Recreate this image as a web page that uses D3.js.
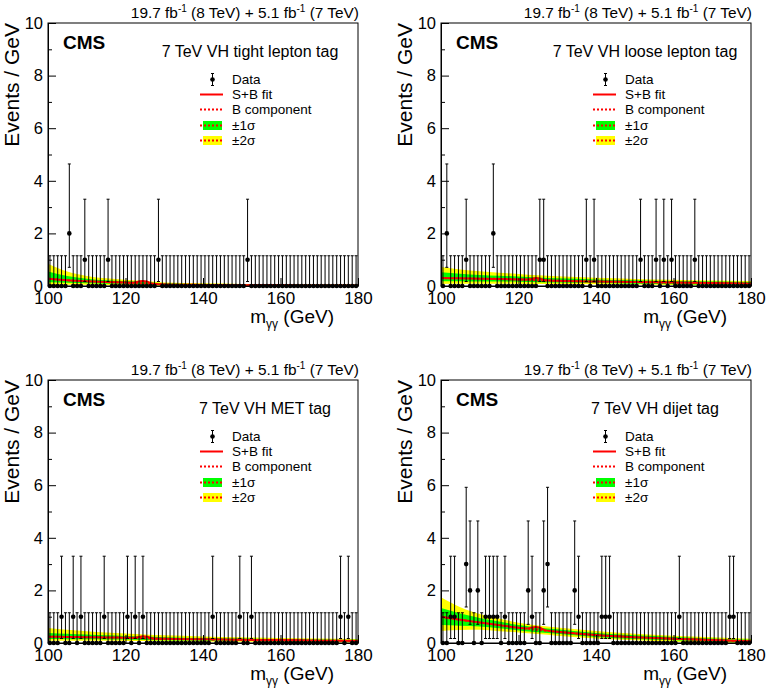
<!DOCTYPE html>
<html><head><meta charset="utf-8">
<script src="https://cdn.jsdelivr.net/npm/d3@7/dist/d3.min.js"></script>
<style>body{margin:0;background:#fff} svg text{font-family:"Liberation Sans",Arial,sans-serif}</style>
</head><body><svg id="c" width="767" height="697"></svg>
<script>
// ---------- data ----------
const massRange = [100, 180];
const nBins = 80;
const yTicksMajor = [0, 2, 4, 6, 8, 10];
const yTicksMinor = [1, 3, 5, 7, 9];
const xTicksMajor = [100, 120, 140, 160, 180];
const categories = ["7 TeV VH tight lepton tag", "7 TeV VH loose lepton tag", "7 TeV VH MET tag", "7 TeV VH dijet tag"];
const legendLabels = ["Data", "S+B fit", "B component", "\u00b11\u03c3", "\u00b12\u03c3"];

// Poisson error bar ends indexed by count (0,1,2,3)
const poissonLow = [0, 0.17, 0.71, 1.37];
const poissonHigh = [1.15, 3.30, 4.64, 5.92];

// non-empty bins (bin centres) and counts
const tightMass = [105.5, 109.5, 115.5, 128.5, 151.5];
const tightCount = [2, 1, 1, 1, 1];
const looseMass = [101.5, 106.5, 113.5, 125.5, 126.5, 137.5, 139.5, 151.5, 155.5, 157.5, 159.5, 165.5];
const looseCount = [2, 1, 2, 1, 1, 1, 1, 1, 1, 1, 1, 1];
const metMass = [103.5, 106.5, 108.5, 114.5, 120.5, 122.5, 124.5, 142.5, 149.5, 152.5, 175.5, 177.5];
const metCount = [1, 1, 1, 1, 1, 1, 1, 1, 1, 1, 1, 1];
const dijetMass = [102.5, 103.5, 106.5, 107.5, 109.5, 111.5, 112.5, 113.5, 114.5, 116.5, 122.5, 123.5, 126.5, 127.5, 134.5, 135.5, 141.5, 142.5, 143.5, 161.5, 174.5, 175.5];
const dijetCount = [1, 1, 3, 2, 2, 1, 1, 1, 1, 1, 2, 1, 2, 3, 2, 1, 1, 1, 1, 1, 1, 1];

// background component and uncertainty bands
const bandMass = [100, 105, 110, 115, 120, 125, 130, 140, 150, 160, 170, 180];
const tightB   = [0.28, 0.22, 0.18, 0.15, 0.13, 0.10, 0.06, 0.04, 0.03, 0.025, 0.02, 0.015];
const tight2lo = [0.04, 0.05, 0.05, 0.04, 0.03, 0.02, 0.01, 0.0, 0.0, 0.0, 0.0, 0.0];
const tight1lo = [0.14, 0.12, 0.10, 0.09, 0.08, 0.06, 0.03, 0.02, 0.015, 0.01, 0.008, 0.005];
const tight1hi = [0.55, 0.38, 0.28, 0.22, 0.19, 0.15, 0.10, 0.07, 0.055, 0.045, 0.04, 0.035];
const tight2hi = [0.85, 0.55, 0.38, 0.29, 0.24, 0.19, 0.13, 0.10, 0.08, 0.07, 0.06, 0.055];

const looseB   = [0.30, 0.29, 0.28, 0.27, 0.25, 0.22, 0.20, 0.17, 0.15, 0.13, 0.11, 0.09];
const loose2lo = [0.08, 0.09, 0.09, 0.09, 0.09, 0.08, 0.08, 0.07, 0.06, 0.04, 0.03, 0.02];
const loose1lo = [0.18, 0.18, 0.17, 0.17, 0.16, 0.14, 0.13, 0.11, 0.09, 0.07, 0.06, 0.04];
const loose1hi = [0.52, 0.47, 0.42, 0.39, 0.36, 0.32, 0.29, 0.25, 0.22, 0.19, 0.17, 0.15];
const loose2hi = [0.72, 0.63, 0.56, 0.50, 0.46, 0.41, 0.37, 0.31, 0.27, 0.24, 0.21, 0.19];

const metB   = [0.24, 0.23, 0.22, 0.21, 0.20, 0.18, 0.16, 0.14, 0.12, 0.11, 0.09, 0.08];
const met2lo = [0.09, 0.09, 0.09, 0.085, 0.08, 0.075, 0.07, 0.06, 0.05, 0.04, 0.03, 0.02];
const met1lo = [0.15, 0.145, 0.14, 0.135, 0.13, 0.115, 0.10, 0.09, 0.08, 0.07, 0.06, 0.05];
const met1hi = [0.38, 0.35, 0.32, 0.29, 0.27, 0.245, 0.22, 0.19, 0.17, 0.15, 0.13, 0.12];
const met2hi = [0.57, 0.50, 0.45, 0.40, 0.36, 0.32, 0.29, 0.25, 0.22, 0.19, 0.17, 0.15];

const dijetB   = [1.00, 0.88, 0.78, 0.68, 0.58, 0.50, 0.43, 0.30, 0.22, 0.16, 0.11, 0.07];
const dijet2lo = [0.46, 0.49, 0.50, 0.45, 0.40, 0.34, 0.28, 0.17, 0.10, 0.05, 0.02, 0.0];
const dijet1lo = [0.68, 0.66, 0.63, 0.56, 0.48, 0.41, 0.35, 0.23, 0.15, 0.10, 0.05, 0.02];
const dijet1hi = [1.33, 1.12, 0.95, 0.82, 0.68, 0.59, 0.52, 0.38, 0.29, 0.23, 0.17, 0.12];
const dijet2hi = [1.74, 1.36, 1.10, 0.93, 0.77, 0.67, 0.59, 0.46, 0.35, 0.28, 0.22, 0.16];

// signal + background fit
const sbMass  = [100, 105, 110, 115, 120, 122, 123.5, 124.5, 125.5, 127, 130, 140, 150, 160, 170, 180];
const tightSB = [0.28, 0.22, 0.18, 0.15, 0.13, 0.125, 0.17, 0.19, 0.17, 0.09, 0.06, 0.04, 0.03, 0.025, 0.02, 0.015];
const looseSB = [0.30, 0.29, 0.28, 0.27, 0.25, 0.245, 0.28, 0.30, 0.28, 0.215, 0.20, 0.17, 0.15, 0.13, 0.11, 0.09];
const metSB   = [0.24, 0.23, 0.22, 0.21, 0.20, 0.195, 0.23, 0.26, 0.24, 0.175, 0.16, 0.14, 0.12, 0.11, 0.09, 0.08];
const dijetSB = [1.00, 0.88, 0.78, 0.68, 0.58, 0.555, 0.59, 0.61, 0.58, 0.48, 0.43, 0.30, 0.22, 0.16, 0.11, 0.07];

// ---------- layout ----------
const W = 310, H = 263;
const colX = [48, 441], rowY = [23, 380];
const panels = [
  {c:0, r:0, title:categories[0], tx:250, mass:tightMass, count:tightCount, B:tightB, SB:tightSB, lo2:tight2lo, lo1:tight1lo, hi1:tight1hi, hi2:tight2hi},
  {c:1, r:0, title:categories[1], tx:252, mass:looseMass, count:looseCount, B:looseB, SB:looseSB, lo2:loose2lo, lo1:loose1lo, hi1:loose1hi, hi2:loose2hi},
  {c:0, r:1, title:categories[2], tx:265, mass:metMass, count:metCount, B:metB, SB:metSB, lo2:met2lo, lo1:met1lo, hi1:met1hi, hi2:met2hi},
  {c:1, r:1, title:categories[3], tx:262, mass:dijetMass, count:dijetCount, B:dijetB, SB:dijetSB, lo2:dijet2lo, lo1:dijet1lo, hi1:dijet1hi, hi2:dijet2hi},
];

const svg = d3.select("#c");
const FONT = "'Liberation Sans',Arial,sans-serif";

panels.forEach((p, pi) => {
  const g = svg.append("g").attr("transform", `translate(${colX[p.c]},${rowY[p.r]})`);
  const x = d3.scaleLinear().domain(massRange).range([0, W]);
  const y = d3.scaleLinear().domain([0, 10]).range([H, 0]);
  const binW = (massRange[1] - massRange[0]) / nBins;

  g.append("clipPath").attr("id", "clip" + pi).append("rect").attr("width", W).attr("height", H);
  const plot = g.append("g").attr("clip-path", `url(#clip${pi})`);

  const band = (lo, hi) => d3.area().curve(d3.curveMonotoneX)
      .x((d, i) => x(bandMass[i])).y0((d, i) => y(lo[i])).y1((d, i) => y(hi[i]));
  plot.append("path").attr("d", band(p.lo2, p.hi2)(bandMass)).attr("fill", "#ffff00");
  plot.append("path").attr("d", band(p.lo1, p.hi1)(bandMass)).attr("fill", "#00ff00");
  const bLine = d3.line().curve(d3.curveMonotoneX).x((d, i) => x(bandMass[i])).y((d, i) => y(p.B[i]));
  plot.append("path").attr("d", bLine(bandMass)).attr("fill", "none").attr("stroke", "#ff0000")
      .attr("stroke-width", 2).attr("stroke-dasharray", "2,2");
  const sbLine = d3.line().curve(d3.curveMonotoneX).x((d, i) => x(sbMass[i])).y((d, i) => y(p.SB[i]));
  plot.append("path").attr("d", sbLine(sbMass)).attr("fill", "none").attr("stroke", "#ff0000").attr("stroke-width", 2);

  // data
  const bins = d3.range(nBins).map(i => {
    const m = massRange[0] + binW * (i + 0.5);
    const k = p.mass.indexOf(m);
    return {m, n: k >= 0 ? p.count[k] : 0};
  });
  const eg = g.append("g").attr("stroke", "#000").attr("stroke-width", 1);
  bins.forEach(b => {
    const xx = x(b.m);
    const yl = y(poissonLow[b.n]), yh = y(poissonHigh[b.n]);
    eg.append("line").attr("x1", xx).attr("x2", xx).attr("y1", yl).attr("y2", yh);
    eg.append("line").attr("x1", xx - 1.5).attr("x2", xx + 1.5).attr("y1", yh).attr("y2", yh);
    if (b.n > 0) eg.append("line").attr("x1", xx - 1.5).attr("x2", xx + 1.5).attr("y1", yl).attr("y2", yl);
  });
  g.append("g").selectAll("circle").data(bins).join("circle")
    .attr("cx", d => x(d.m)).attr("cy", d => y(d.n)).attr("r", 2.3).attr("fill", "#000");

  // axes
  const ya = g.append("g").call(d3.axisLeft(y).tickValues(yTicksMajor).tickSize(-8).tickSizeOuter(0).tickPadding(5).tickFormat(d3.format("d")));
  g.append("g").call(d3.axisLeft(y).tickValues(yTicksMinor).tickSize(-4).tickSizeOuter(0).tickFormat(""));
  const xa = g.append("g").attr("transform", `translate(0,${H})`)
    .call(d3.axisBottom(x).tickValues(xTicksMajor).tickSize(-8).tickSizeOuter(0).tickPadding(6).tickFormat(d3.format("d")));
  ya.attr("font-size", 16.5).attr("font-family", FONT);
  xa.attr("font-size", 17).attr("font-family", FONT);
  g.selectAll(".tick text").attr("fill", "#000");
  g.append("rect").attr("width", W).attr("height", H).attr("fill", "none").attr("stroke", "#000").attr("stroke-width", 1);

  // texts
  const lum = g.append("text").attr("x", W + 1).attr("y", -5).attr("text-anchor", "end").attr("font-size", 15.4);
  lum.append("tspan").text("19.7 fb");
  lum.append("tspan").attr("dy", -6).attr("font-size", 10).text("-1");
  lum.append("tspan").attr("dy", 6).text(" (8 TeV) + 5.1 fb");
  lum.append("tspan").attr("dy", -6).attr("font-size", 10).text("-1");
  lum.append("tspan").attr("dy", 6).text(" (7 TeV)");

  g.append("text").attr("x", 15).attr("y", 26).attr("font-size", 19).attr("font-weight", "bold").text("CMS");
  g.append("text").attr("x", p.tx - 48).attr("y", 34).attr("text-anchor", "middle").attr("font-size", 16).text(p.title);

  g.append("text").attr("transform", "rotate(-90)").attr("x", 0).attr("y", -29)
    .attr("text-anchor", "end").attr("font-size", 21).text("Events / GeV");

  const xt = g.append("text").attr("x", 286).attr("y", H + 37).attr("text-anchor", "end").attr("font-size", 19);
  xt.append("tspan").text("m");
  xt.append("tspan").attr("dy", 5).attr("font-size", 12).text("\u03b3\u03b3");
  xt.append("tspan").attr("dy", -5).text(" (GeV)");

  // legend
  const lg = g.append("g");
  const ly = [61, 76, 91, 107, 122];
  legendLabels.forEach((t, i) => {
    lg.append("text").attr("x", 184).attr("y", ly[i]).attr("font-size", 13.5).text(t);
  });
  const cy = ly.map(v => v - 4.5);
  // data symbol
  lg.append("line").attr("x1", 164.5).attr("x2", 164.5).attr("y1", cy[0] - 6).attr("y2", cy[0] + 6).attr("stroke", "#000");
  lg.append("line").attr("x1", 163).attr("x2", 166).attr("y1", cy[0] - 6).attr("y2", cy[0] - 6).attr("stroke", "#000");
  lg.append("line").attr("x1", 163).attr("x2", 166).attr("y1", cy[0] + 6).attr("y2", cy[0] + 6).attr("stroke", "#000");
  lg.append("circle").attr("cx", 164.5).attr("cy", cy[0]).attr("r", 2.3).attr("fill", "#000");
  lg.append("line").attr("x1", 152).attr("x2", 175).attr("y1", cy[1]).attr("y2", cy[1]).attr("stroke", "#ff0000").attr("stroke-width", 2);
  lg.append("line").attr("x1", 152).attr("x2", 175).attr("y1", cy[2]).attr("y2", cy[2]).attr("stroke", "#ff0000").attr("stroke-width", 2).attr("stroke-dasharray", "2,2");
  [["#00ff00", cy[3]], ["#ffff00", cy[4]]].forEach(([col, yy]) => {
    lg.append("rect").attr("x", 155).attr("y", yy - 4.5).attr("width", 19).attr("height", 9).attr("fill", col);
    lg.append("line").attr("x1", 152).attr("x2", 175).attr("y1", yy).attr("y2", yy).attr("stroke", "#ff0000").attr("stroke-width", 2).attr("stroke-dasharray", "2,2");
  });
});
</script></body></html>
